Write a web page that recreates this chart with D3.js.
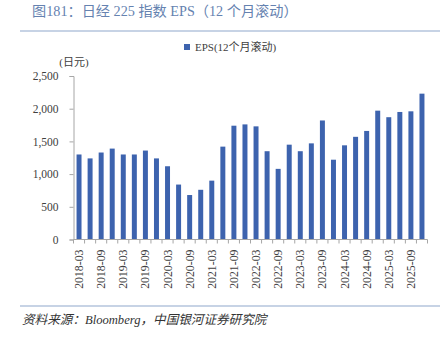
<!DOCTYPE html>
<html><head><meta charset="utf-8">
<script src="https://cdn.jsdelivr.net/npm/d3@7"></script>
<style>body{margin:0;background:#fff}svg{display:block}</style>
</head><body><svg id="c" width="444" height="340"></svg>
<script>
const categories = ["2018-03","2018-06","2018-09","2018-12","2019-03","2019-06","2019-09","2019-12","2020-03","2020-06","2020-09","2020-12","2021-03","2021-06","2021-09","2021-12","2022-03","2022-06","2022-09","2022-12","2023-03","2023-06","2023-09","2023-12","2024-03","2024-06","2024-09","2024-12","2025-03","2025-06","2025-09","2025-12"];
const eps = [1300,1240,1330,1390,1300,1300,1360,1240,1120,840,680,760,900,1420,1740,1760,1730,1350,1080,1450,1350,1470,1820,1220,1440,1570,1660,1970,1870,1950,1960,2230];
const yTicks = [0,500,1000,1500,2000,2500];
const seriesName = "EPS(12个月滚动)";
const titleText = "图181：日经 225 指数 EPS（12 个月滚动）";
const sourceText = "资料来源：Bloomberg，中国银河证券研究院";
const unitText = "(日元)";

const svg = d3.select("#c");
const serif = "'Liberation Serif','Noto Sans CJK SC',serif";
const barColor = "#3d63ae";
const axisColor = "#a6a6a6";

// title & rules
svg.append("text").attr("x",32).attr("y",16).attr("font-family",serif).attr("font-size",14.2)
  .attr("fill","#6582b0").text(titleText);
svg.append("line").attr("x1",20).attr("x2",440).attr("y1",31).attr("y2",31).attr("stroke","#8fa7cc").attr("stroke-width",1.2);
svg.append("line").attr("x1",20).attr("x2",440).attr("y1",306).attr("y2",306).attr("stroke","#8fa7cc").attr("stroke-width",1.2);
svg.append("text").attr("x",22).attr("y",324).attr("font-family",serif).attr("font-size",12.6)
  .attr("font-style","italic").attr("fill","#333").text(sourceText);

const x = d3.scaleBand().domain(categories).range([73.5,427.5]).paddingInner(0.55).paddingOuter(0.275);
const y = d3.scaleLinear().domain([0,2500]).range([239.5,76]);

// bars
svg.append("g").selectAll("rect").data(eps).join("rect")
  .attr("x",(d,i)=>x(categories[i])).attr("width",x.bandwidth())
  .attr("y",d=>y(d)).attr("height",d=>y(0)-y(d)).attr("fill",barColor);

// y axis
const ya = svg.append("g").attr("transform","translate(73.5,0)")
  .call(d3.axisLeft(y).tickValues(yTicks).tickSize(4).tickFormat(d3.format(",")));
ya.select(".domain").attr("stroke",axisColor);
ya.selectAll(".tick line").attr("stroke",axisColor);
ya.selectAll("text").attr("font-family",serif).attr("font-size",11.5).attr("fill","#404040").attr("x",-15);

// x axis
const xa = svg.append("g").attr("transform",`translate(0,${y(0)})`);
xa.append("line").attr("x1",73.5).attr("x2",427.5).attr("stroke",axisColor);
const step = x.step();
const bounds = d3.range(categories.length+1).map(i=>73.5+i*step);
xa.selectAll("line.t").data(bounds).join("line").attr("class","t")
  .attr("x1",d=>d).attr("x2",d=>d).attr("y1",0).attr("y2",4).attr("stroke",axisColor);
xa.selectAll("text").data(categories.filter((c,i)=>i%2===0)).join("text")
  .attr("transform",d=>`translate(${x(d)+x.bandwidth()/2+4},10) rotate(-90)`)
  .attr("text-anchor","end").attr("font-family",serif).attr("font-size",11.8).attr("fill","#404040").text(d=>d);

// unit label
svg.append("text").attr("x",74).attr("y",66).attr("text-anchor","middle").attr("font-family",serif)
  .attr("font-size",11).attr("fill","#404040").text(unitText);

// legend
svg.append("rect").attr("x",184).attr("y",44).attr("width",6).attr("height",6).attr("fill",barColor);
svg.append("text").attr("x",195).attr("y",51).attr("font-family",serif).attr("font-size",11)
  .attr("fill","#404040").text(seriesName);
</script></body></html>
